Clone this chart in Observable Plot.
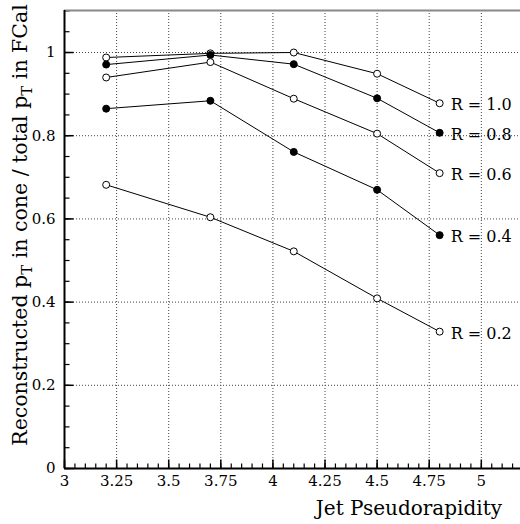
<!DOCTYPE html>
<html>
<head>
<meta charset="utf-8">
<script src="https://cdn.jsdelivr.net/npm/d3@7"></script>
<script src="https://cdn.jsdelivr.net/npm/@observablehq/plot@0.6"></script>
<style>
  html, body { margin: 0; padding: 0; background: white; }
</style>
</head>
<body>
<div id="chart"></div>
<script>
const eta = [3.2, 3.7, 4.1, 4.5, 4.8];
const r10 = [0.988, 0.998, 1.0, 0.949, 0.878];
const r08 = [0.971, 0.994, 0.972, 0.890, 0.807];
const r06 = [0.940, 0.977, 0.889, 0.805, 0.710];
const r04 = [0.865, 0.884, 0.761, 0.670, 0.561];
const r02 = [0.682, 0.604, 0.522, 0.409, 0.329];
const seriesLabels = ["R = 1.0", "R = 0.8", "R = 0.6", "R = 0.4", "R = 0.2"];
const seriesFilled = [false, true, false, true, false];
const xMajor = [3, 3.25, 3.5, 3.75, 4, 4.25, 4.5, 4.75, 5];
const xMinor = d3.range(0, 44).map(i => +(3 + i * 0.05).toFixed(2));
const yMajor = [0, 0.2, 0.4, 0.6, 0.8, 1];
const yMinor = d3.range(0, 23).map(i => +(i * 0.05).toFixed(2));

const seriesValues = [r10, r08, r06, r04, r02];
const rows = [];
seriesValues.forEach((vals, s) => {
  vals.forEach((v, i) => rows.push({eta: eta[i], value: v, label: seriesLabels[s], filled: seriesFilled[s]}));
});

const serif = "DejaVu Serif";
const xDom = [3, 5.188], yDom = [0, 1.101];
const pxX = (520 - 64) / (xDom[1] - xDom[0]);
const pxY = (524 - 10 - 56) / (yDom[1] - yDom[0]);

const chart = Plot.plot({
  width: 520,
  height: 524,
  marginLeft: 64,
  marginRight: 0,
  marginTop: 10,
  marginBottom: 56,
  style: {fontFamily: serif, background: "white", color: "black", overflow: "visible"},
  x: {domain: xDom, axis: null},
  y: {domain: yDom, axis: null},
  marks: [
    Plot.gridX(xMajor.filter(d => d > 3), {stroke: "#444", strokeOpacity: 1, strokeDasharray: "1,2"}),
    Plot.gridY(yMajor.filter(d => d > 0), {stroke: "#444", strokeOpacity: 1, strokeDasharray: "1,2"}),
    Plot.link(xMinor, {x1: d => d, x2: d => d, y1: () => yDom[0], y2: () => yDom[0] + 5 / pxY, stroke: "black", strokeWidth: 1.2}),
    Plot.link(xMajor, {x1: d => d, x2: d => d, y1: () => yDom[0], y2: () => yDom[0] + 9 / pxY, stroke: "black", strokeWidth: 1.5}),
    Plot.link(yMinor, {y1: d => d, y2: d => d, x1: () => xDom[0], x2: () => xDom[0] + 5 / pxX, stroke: "black", strokeWidth: 1.2}),
    Plot.link(yMajor, {y1: d => d, y2: d => d, x1: () => xDom[0], x2: () => xDom[0] + 9 / pxX, stroke: "black", strokeWidth: 1.5}),
    Plot.axisX(xMajor, {tickSize: 0, tickPadding: 7, fontSize: 15, tickFormat: d3.format("~g"), fill: "black", label: null}),
    Plot.axisY(yMajor, {tickSize: 0, tickPadding: 9, fontSize: 15, tickFormat: d3.format("~g"), fill: "black", label: null}),
    Plot.ruleY([yDom[1]], {stroke: "#888", strokeWidth: 2}),
    Plot.ruleX([xDom[0]], {stroke: "black", strokeWidth: 2}),
    Plot.ruleY([yDom[0]], {stroke: "black", strokeWidth: 2}),
    Plot.line(rows, {x: "eta", y: "value", z: "label", stroke: "black", strokeWidth: 1}),
    Plot.dot(rows, {x: "eta", y: "value", r: 3.5, stroke: "black", strokeWidth: 1, fill: d => d.filled ? "black" : "white"}),
    Plot.text(rows, Plot.selectLast({x: "eta", y: "value", z: "label", text: "label", dx: 11, dy: 2, textAnchor: "start", fontSize: 16, fill: "black"}))
  ]
});

const svg = d3.select(chart);
const yt = svg.append("text")
  .attr("transform", "translate(27,225) rotate(-90)")
  .attr("text-anchor", "middle")
  .attr("font-size", 20.5)
  .style("font-family", serif)
  .attr("fill", "black");
yt.append("tspan").text("Reconstructed p");
yt.append("tspan").attr("font-size", 15).attr("dy", 5).text("T");
yt.append("tspan").attr("dy", -5).text(" in cone / total p");
yt.append("tspan").attr("font-size", 15).attr("dy", 5).text("T");
yt.append("tspan").attr("dy", -5).text(" in FCal");

svg.append("text")
  .attr("x", 502)
  .attr("y", 515)
  .attr("text-anchor", "end")
  .attr("font-size", 20)
  .style("font-family", serif)
  .attr("fill", "black")
  .text("Jet Pseudorapidity");

document.getElementById("chart").appendChild(chart);
</script>
</body>
</html>
